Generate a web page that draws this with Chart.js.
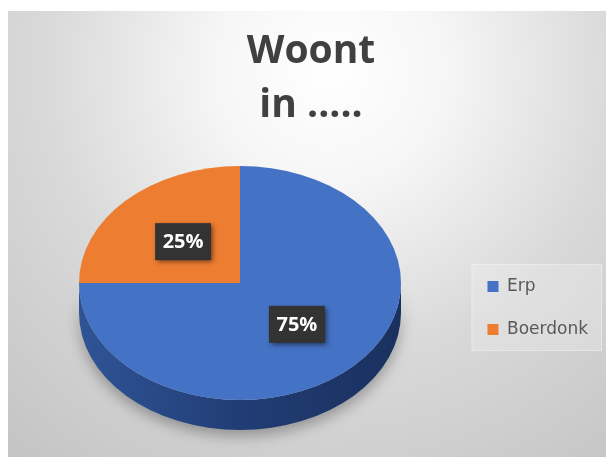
<!DOCTYPE html>
<html>
<head>
<meta charset="utf-8">
<script src="https://cdn.jsdelivr.net/npm/chart.js@4/dist/chart.umd.min.js"></script>
<style>
  html, body { margin: 0; padding: 0; background: #ffffff; }
  #pieChart { display: block; }
</style>
</head>
<body>
<canvas id="pieChart" width="614" height="468"></canvas>
<script>
// data
const categories = ['Erp', 'Boerdonk'];
const values = [75, 25];
const sliceColors = ['#4472c4', '#ed7d31'];
const titleLines = ['Woont', 'in .....'];

// look of the fake 3d pie
const pieCenter = { x: 240, y: 283 };
const pieRx = 161;
const pieRy = 117;
const pieDepth = 30;
// empty legend title used only to push the items down
const legendGap = 148;

function toScreen(arc, p) {
    const R = arc.outerRadius;
    return {
        x: pieCenter.x + (p.x - arc.x) * pieRx / R,
        y: pieCenter.y + (p.y - arc.y) * pieRy / R
    };
}

const backgroundPlugin = {
    id: 'bg',
    beforeDraw(chart) {
        const ctx = chart.ctx;
        ctx.save();
        const g = ctx.createRadialGradient(330, 70, 0, 330, 70, 520);
        g.addColorStop(0, '#ffffff');
        g.addColorStop(0.22, '#f6f6f6');
        g.addColorStop(0.55, '#d9d9d9');
        g.addColorStop(1, '#c2c2c2');
        ctx.fillStyle = g;
        ctx.fillRect(8, 11, 598, 446);

        // legend frame
        const lg = chart.legend;
        const pad = lg.options.labels.padding;
        const colH = 2 * (17 + pad);
        const cy = (lg.top + legendGap + pad + lg.bottom - colH) / 2;
        const x0 = lg.left + pad - 16;
        const x1 = lg.left + lg.width - 10 + 14;
        ctx.fillStyle = 'rgba(255,255,255,0.22)';
        ctx.fillRect(x0, cy - 14, x1 - x0, 87);
        ctx.strokeStyle = 'rgba(255,255,255,0.3)';
        ctx.lineWidth = 1;
        ctx.strokeRect(x0 + 0.5, cy - 14 + 0.5, x1 - x0 - 1, 86);
        ctx.restore();
    }
};

const pie3dPlugin = {
    id: 'pie3d',
    beforeDatasetsDraw(chart) {
        const ctx = chart.ctx;
        const arc = chart.getDatasetMeta(0).data[0];
        // side of the pie
        ctx.save();
        const side = ctx.createLinearGradient(pieCenter.x - pieRx, 0, pieCenter.x + pieRx, 0);
        side.addColorStop(0, '#2f5496');
        side.addColorStop(0.5, '#213d75');
        side.addColorStop(1, '#1a315f');
        ctx.fillStyle = side;
        ctx.shadowColor = 'rgba(0,0,0,0.3)';
        ctx.shadowBlur = 14;
        ctx.shadowOffsetY = 6;
        ctx.beginPath();
        ctx.ellipse(pieCenter.x, pieCenter.y, pieRx, pieRy, 0, 0, Math.PI);
        ctx.lineTo(pieCenter.x - pieRx, pieCenter.y + pieDepth);
        ctx.ellipse(pieCenter.x, pieCenter.y + pieDepth, pieRx, pieRy, 0, Math.PI, 0, true);
        ctx.closePath();
        ctx.fill();
        ctx.restore();

        // squash the top face
        ctx.save();
        const R = arc.outerRadius;
        ctx.translate(pieCenter.x, pieCenter.y);
        ctx.scale(pieRx / R, pieRy / R);
        ctx.translate(-arc.x, -arc.y);
    },
    afterDatasetsDraw(chart) {
        const ctx = chart.ctx;
        ctx.restore();
        const meta = chart.getDatasetMeta(0);
        const total = values.reduce((a, b) => a + b, 0);
        ctx.save();
        ctx.font = 'bold 20px "Open Sans"';
        ctx.textAlign = 'center';
        ctx.textBaseline = 'middle';
        meta.data.forEach((arc, i) => {
            const p = toScreen(arc, arc.tooltipPosition());
            const txt = Math.round(values[i] / total * 100) + '%';
            const w = ctx.measureText(txt).width + 15;
            const h = 37;
            ctx.save();
            ctx.shadowColor = 'rgba(0,0,0,0.55)';
            ctx.shadowBlur = 5;
            ctx.shadowOffsetX = 2;
            ctx.shadowOffsetY = 2;
            ctx.fillStyle = '#333333';
            ctx.fillRect(p.x - w / 2, p.y - h / 2, w, h);
            ctx.restore();
            ctx.fillStyle = '#ffffff';
            ctx.fillText(txt, p.x, p.y + 1);
        });
        ctx.restore();
    }
};

const ctx1 = document.getElementById('pieChart').getContext('2d');
const myChart = new Chart(ctx1, {
    type: 'pie',
    data: {
        labels: categories,
        datasets: [{
            data: values,
            backgroundColor: sliceColors,
            borderWidth: 0,
            clip: false
        }]
    },
    options: {
        responsive: false,
        animation: false,
        events: [],
        layout: {
            padding: { top: 10, bottom: 10, left: 24, right: 16 }
        },
        plugins: {
            title: {
                display: true,
                text: titleLines,
                color: '#404040',
                font: { family: '"Open Sans"', size: 39, weight: 'bold', lineHeight: 54 / 39 },
                padding: { top: 15, bottom: 23 }
            },
            legend: {
                position: 'right',
                title: {
                    display: true,
                    text: ' ',
                    font: { size: 10, lineHeight: 1 },
                    padding: { top: 0, bottom: legendGap - 10 }
                },
                labels: {
                    boxWidth: 11,
                    boxHeight: 11,
                    padding: 26,
                    color: '#595959',
                    font: { family: '"DejaVu Sans"', size: 17 }
                }
            },
            tooltip: { enabled: false }
        }
    },
    plugins: [backgroundPlugin, pie3dPlugin]
});
</script>
</body>
</html>
